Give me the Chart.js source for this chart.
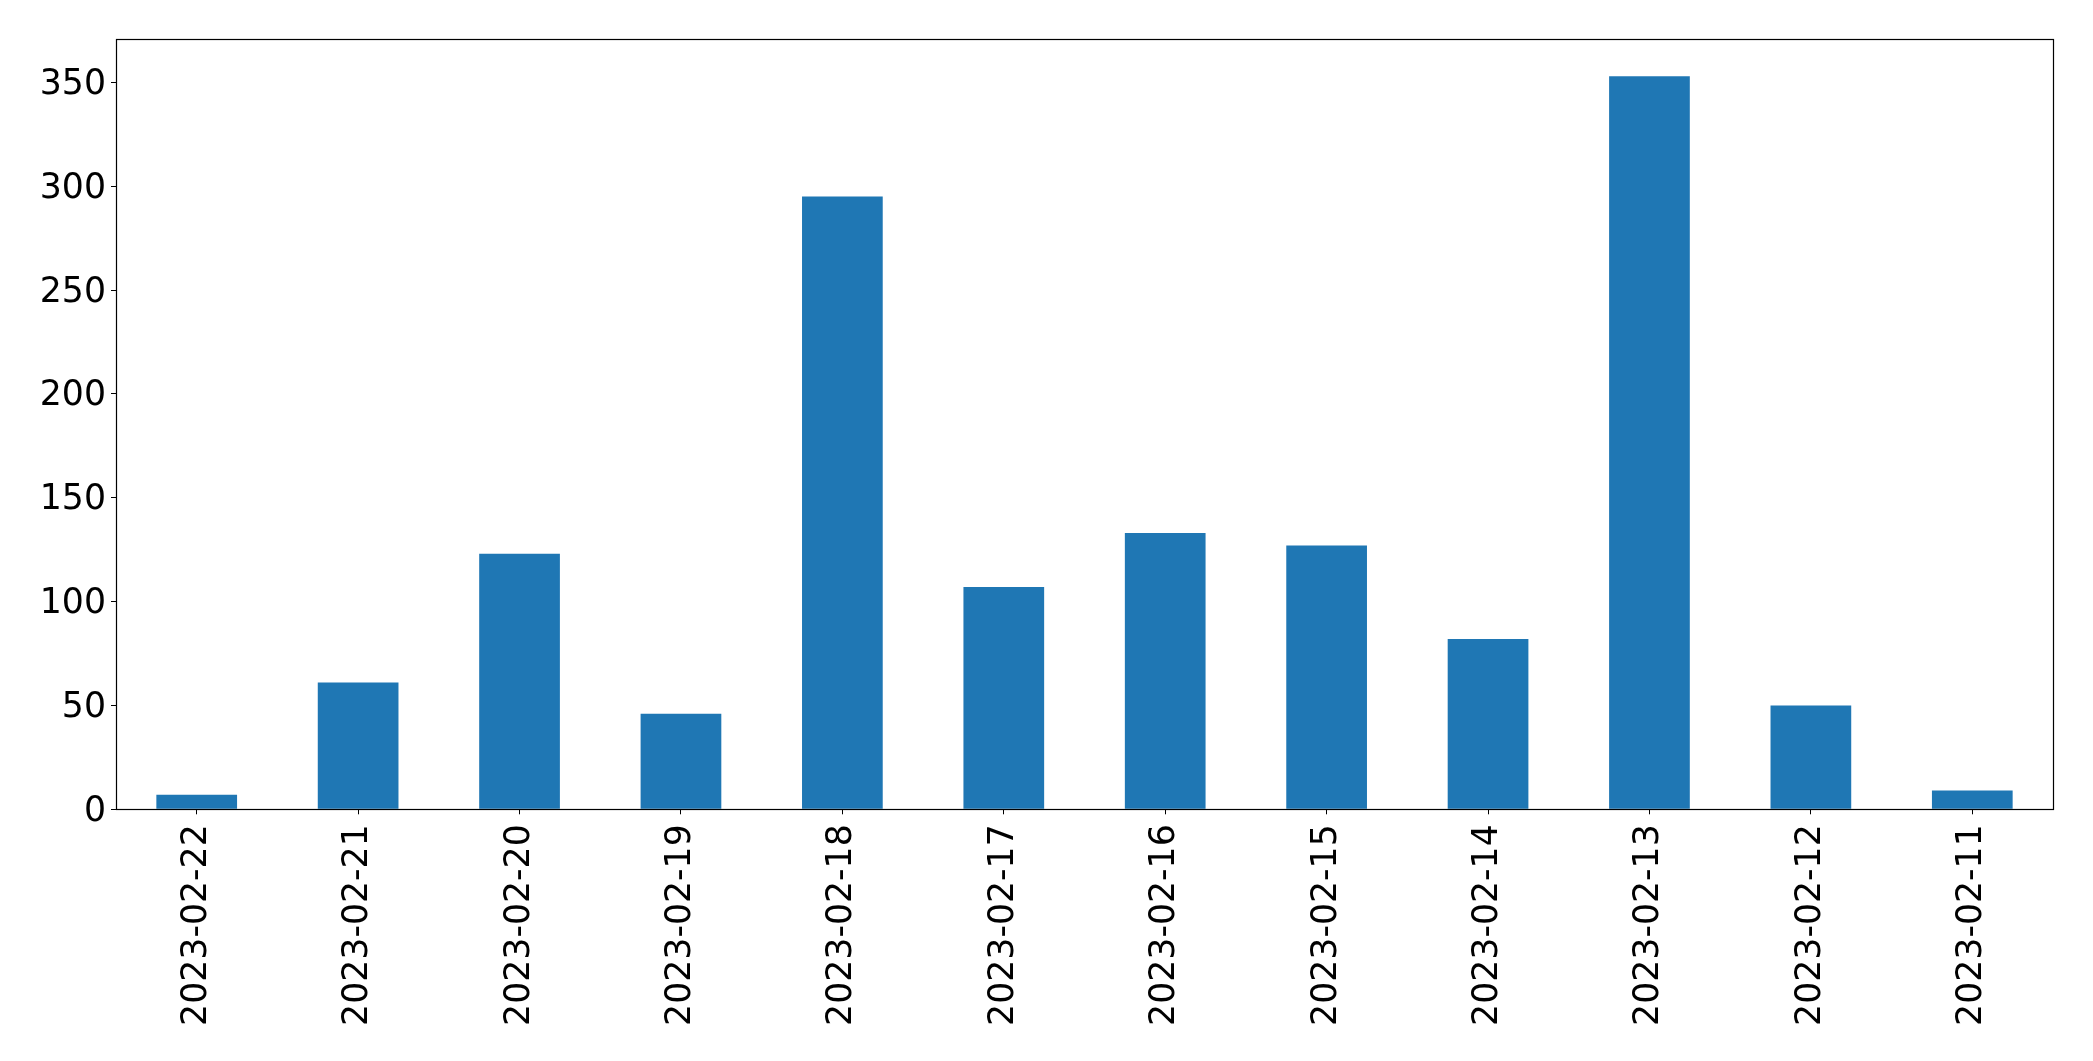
<!DOCTYPE html>
<html>
<head>
<meta charset="utf-8">
<script src="https://cdn.jsdelivr.net/npm/chart.js@4.4.0/dist/chart.umd.min.js"></script>
<style>
  html, body { margin: 0; padding: 0; background: #ffffff; }
  #wrap { width: 2093px; height: 1061px; position: relative; }
</style>
</head>
<body>
<div id="wrap"><canvas id="c"></canvas></div>
<script>
const categories = ["2023-02-22","2023-02-21","2023-02-20","2023-02-19","2023-02-18","2023-02-17","2023-02-16","2023-02-15","2023-02-14","2023-02-13","2023-02-12","2023-02-11"];
const counts = [7, 61, 123, 46, 295, 107, 133, 127, 82, 353, 50, 9];
const yTicks = [0, 50, 100, 150, 200, 250, 300, 350];

const yMax = Math.max(...counts) * 1.05;

const framePlugin = {
  id: 'frame',
  afterDatasetsDraw(chart) {
    const a = chart.chartArea, ctx = chart.ctx;
    const l = Math.round(a.left) + 0.5, t = Math.round(a.top) - 0.5;
    const r = Math.round(a.right) + 0.5, b = Math.round(a.bottom) + 0.5;
    ctx.save();
    ctx.strokeStyle = '#000000';
    ctx.lineWidth = 1.2;
    ctx.strokeRect(l, t, r - l, b - t);
    ctx.restore();
  }
};

new Chart(document.getElementById('c'), {
  type: 'bar',
  data: {
    labels: categories,
    datasets: [{
      data: counts,
      backgroundColor: '#1f77b4',
      borderWidth: 0,
      categoryPercentage: 1.0,
      barPercentage: 0.5
    }]
  },
  options: {
    responsive: true,
    maintainAspectRatio: false,
    devicePixelRatio: 1,
    animation: false,
    layout: { padding: { left: 0, top: 39.5, right: 40, bottom: 0 } },
    plugins: { legend: { display: false }, tooltip: { enabled: false }, title: { display: false } },
    scales: {
      x: {
        grid: { display: true, offset: false, drawOnChartArea: false, drawTicks: true, tickLength: 5, color: '#000000', lineWidth: 1 },
        border: { display: false },
        ticks: {
          color: '#000000',
          font: { family: 'DejaVu Sans', size: 34.7 },
          minRotation: 90, maxRotation: 90,
          autoSkip: false,
          padding: 10
        },
        afterFit(scale) { scale.height = 251.7; }
      },
      y: {
        min: 0,
        max: yMax,
        grid: { display: true, drawOnChartArea: false, drawTicks: true, tickLength: 5, color: '#000000', lineWidth: 1 },
        border: { display: false },
        ticks: {
          color: '#000000',
          font: { family: 'DejaVu Sans', size: 34.7 },
          stepSize: 50,
          includeBounds: false,
          padding: 5,
          labelOffset: 2.5
        },
        afterBuildTicks(scale) { scale.ticks = yTicks.map(v => ({ value: v })); },
        afterFit(scale) { scale.width = 116; }
      }
    }
  },
  plugins: [framePlugin]
});
</script>
</body>
</html>
